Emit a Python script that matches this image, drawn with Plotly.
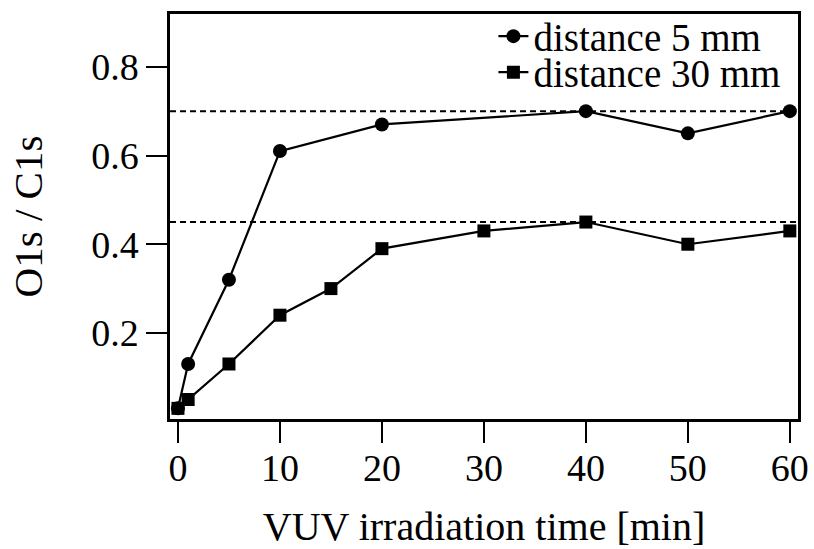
import plotly.graph_objects as go

# Irradiation time [min] and O1s/C1s ratio for the two sample distances
time_5mm = [0, 1, 5, 10, 20, 40, 50, 60]
ratio_5mm = [0.03, 0.13, 0.32, 0.61, 0.67, 0.70, 0.65, 0.70]

time_30mm = [0, 1, 5, 10, 15, 20, 30, 40, 50, 60]
ratio_30mm = [0.03, 0.05, 0.13, 0.24, 0.30, 0.39, 0.43, 0.45, 0.40, 0.43]

# Saturation levels shown as dashed reference lines
saturation_levels = [0.70, 0.45]

x_ticks = [0, 10, 20, 30, 40, 50, 60]
y_ticks = [0.2, 0.4, 0.6, 0.8]

FONT = "Liberation Serif"
BLACK = "black"

fig = go.Figure()

for level in saturation_levels:
    fig.add_hline(y=level, line=dict(color=BLACK, width=2, dash="6px,4px"), layer="below")

fig.add_trace(go.Scatter(
    x=time_5mm, y=ratio_5mm, mode="lines+markers", name="distance 5 mm",
    line=dict(color=BLACK, width=2.2),
    marker=dict(symbol="circle", size=14, color=BLACK),
    legend="legend",
))
fig.add_trace(go.Scatter(
    x=time_30mm, y=ratio_30mm, mode="lines+markers", name="distance 30 mm",
    line=dict(color=BLACK, width=2.2),
    marker=dict(symbol="square", size=13, color=BLACK),
    legend="legend2",
))

axis_common = dict(
    showline=True, linecolor=BLACK, linewidth=2.5, mirror=True,
    ticks="outside", ticklen=21, tickwidth=2, tickcolor=BLACK,
    showgrid=False, zeroline=False, automargin=False,
    tickfont=dict(family=FONT, size=38, color=BLACK),
)

legend_common = dict(
    font=dict(family=FONT, size=39, color=BLACK),
    bgcolor="rgba(0,0,0,0)", borderwidth=0,
    xanchor="left", yanchor="middle", x=0.515,
)

fig.update_layout(
    width=814, height=549,
    margin=dict(l=170, r=16, t=14, b=130, autoexpand=False),
    paper_bgcolor="white", plot_bgcolor="white",
    font=dict(family=FONT, size=38, color=BLACK),
    xaxis=dict(
        range=[-0.78, 60.8], tickvals=x_ticks, ticklabelstandoff=-7,
        title=dict(text="VUV irradiation time [min]", font=dict(family=FONT, size=40), standoff=43),
        **axis_common,
    ),
    yaxis=dict(
        range=[0.006, 0.919], tickvals=y_ticks, tickformat=".1f",
        title=dict(text="O1s / C1s", font=dict(family=FONT, size=41), standoff=36),
        **axis_common,
    ),
    legend=dict(y=0.945, **legend_common),
    legend2=dict(y=0.856, **legend_common),
    showlegend=True,
)

fig.write_html("out.html")
